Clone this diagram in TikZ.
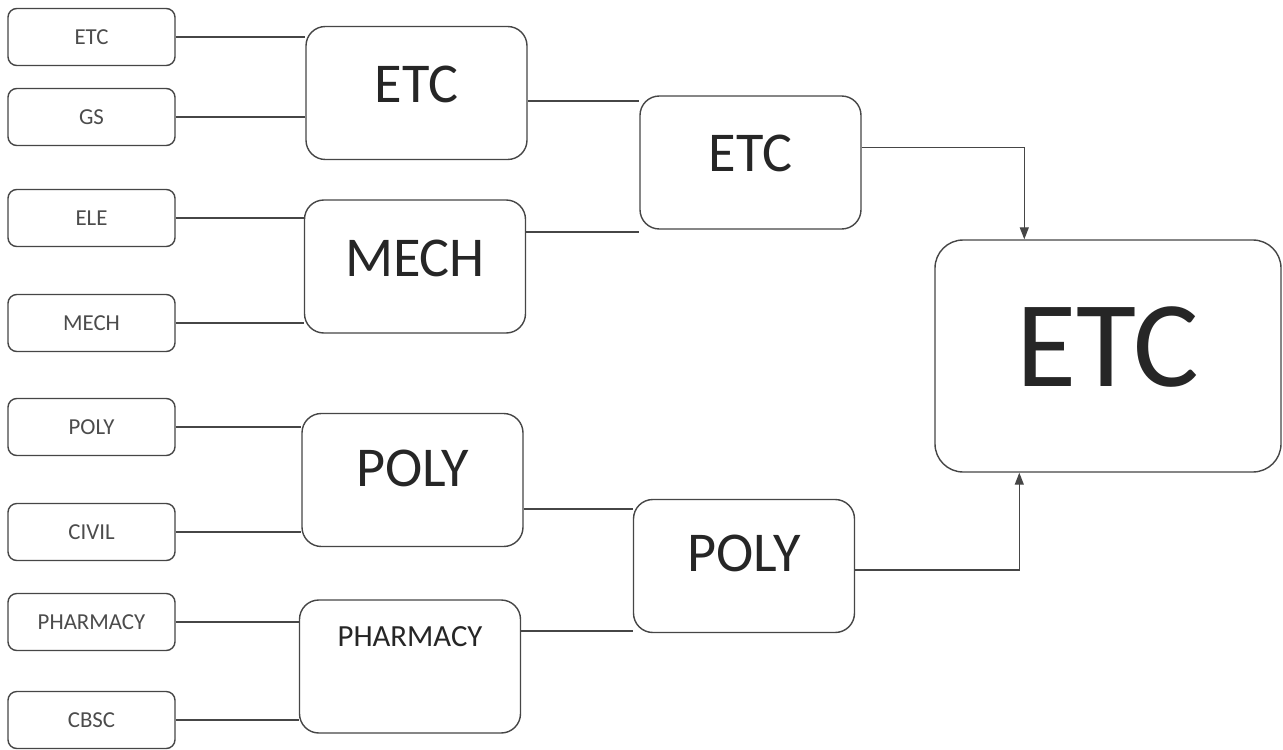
\documentclass[tikz,border=0pt]{standalone}
\usepackage{fontspec}
\setmainfont{Carlito}
\usetikzlibrary{arrows.meta, positioning, calc}

\begin{document}
\begin{tikzpicture}[
  >=Stealth,
  every node/.style={font=\fontsize{13}{15}\selectfont, text=black!70},
  % --- box styles ---
  leafbox/.style={
    draw=gray!55!black, fill=white, rounded corners=5pt, line width=0.8pt,
    minimum width=3.34cm, minimum height=1.14cm, inner sep=0pt,
  },
  matchbox/.style={
    draw=gray!55!black, fill=white, rounded corners=11pt, line width=0.8pt,
    minimum width=4.42cm, minimum height=2.66cm, inner sep=0pt,
    font=\fontsize{32}{36}\selectfont, text=black!85, text depth=#1,
  },
  finalbox/.style={
    draw=gray!55!black, fill=white, rounded corners=16pt, line width=0.8pt,
    minimum width=6.92cm, minimum height=4.64cm, inner sep=0pt,
    font=\fontsize{70}{80}\selectfont, text=black!85, text depth=0.36cm,
  },
  conn/.style={draw=gray!55!black, line width=0.7pt},
  arr/.style={conn, -{Triangle[length=2.4mm, width=1.8mm]}},
]

\useasboundingbox (0,0) rectangle (25.66,-14.98);

% ---------- Round 1: departments ----------
\node[leafbox] (etc1)   at (1.83,-0.74)  {ETC};
\node[leafbox] (gs1)    at (1.83,-2.34)  {GS};
\node[leafbox] (ele1)   at (1.83,-4.36)  {ELE};
\node[leafbox] (mech1)  at (1.83,-6.46)  {MECH};
\node[leafbox] (poly1)  at (1.83,-8.54)  {POLY};
\node[leafbox] (civil1) at (1.83,-10.64) {CIVIL};
\node[leafbox] (pharm1) at (1.83,-12.44) {PHARMACY};
\node[leafbox] (cbsc1)  at (1.83,-14.40) {CBSC};

% ---------- Round 2 ----------
\node[matchbox=0.34cm] (etc2)  at (8.33,-1.86)  {ETC};
\node[matchbox=0.34cm] (mech2) at (8.30,-5.33)  {MECH};
\node[matchbox=0.48cm] (poly2) at (8.25,-9.60)  {POLY};
\node[matchbox=1.18cm, font=\fontsize{17.5}{20}\selectfont]
  (pharm2) at (8.20,-13.33) {PHARMACY};

\foreach \a/\b in {etc1/etc2, gs1/etc2, ele1/mech2, mech1/mech2,
                   poly1/poly2, civil1/poly2, pharm1/pharm2, cbsc1/pharm2}
  \draw[conn] (\a.east) -- (\a.east -| \b.west);

% ---------- Round 3 ----------
\node[matchbox=0.38cm] (etc3)  at (15.01,-3.25)  {ETC};
\node[matchbox=0.52cm] (poly3) at (14.88,-11.32) {POLY};

\coordinate (etc2o)   at ([yshift=-0.16cm]etc2.east);
\coordinate (mech2o)  at ([yshift=0.69cm]mech2.east);
\coordinate (poly2o)  at ([yshift=-0.58cm]poly2.east);
\coordinate (pharm2o) at ([yshift=0.71cm]pharm2.east);

\draw[conn] (etc2o)   -- (etc2o -| etc3.west);
\draw[conn] (mech2o)  -- (mech2o -| etc3.west);
\draw[conn] (poly2o)  -- (poly2o -| poly3.west);
\draw[conn] (pharm2o) -- (pharm2o -| poly3.west);

% ---------- Final ----------
\node[finalbox] (final) at (22.16,-7.12) {ETC};

\coordinate (etc3o)  at ([yshift=0.30cm]etc3.east);
\coordinate (poly3o) at ([yshift=-0.08cm]poly3.east);
\coordinate (finTop) at ([xshift=1.80cm]final.north west);
\coordinate (finBot) at ([xshift=1.70cm]final.south west);

\draw[arr] (etc3o)  -| (finTop);
\draw[arr] (poly3o) -| (finBot);

\end{tikzpicture}
\end{document}
